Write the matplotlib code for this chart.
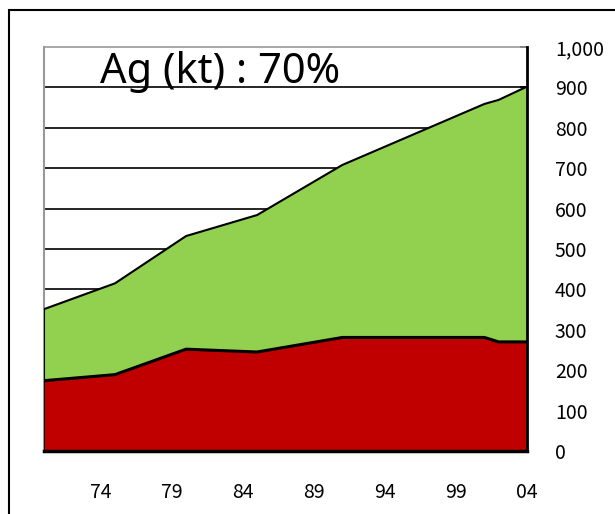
import numpy as np
import matplotlib.pyplot as plt
from matplotlib.patches import Rectangle

# kink points (year, kt)
years = [1970, 1975, 1980, 1985, 1991, 2001, 2002, 2004]
red_vals = [174, 189, 252, 245, 281, 281, 270, 270]      # lower layer
total_vals = [351, 415, 532, 584, 708, 859, 869, 902]    # top of stack
green_vals = [t - r for t, r in zip(total_vals, red_vals)]

yticks = [0, 100, 200, 300, 400, 500, 600, 700, 800, 900, 1000]
ytick_labels = ['0', '100', '200', '300', '400', '500', '600', '700', '800', '900', '1,000']
xtick_years = [1974, 1979, 1984, 1989, 1994, 1999, 2004]
xtick_labels = ['74', '79', '84', '89', '94', '99', '04']

plt.rcParams['font.family'] = ['Noto Sans CJK JP', 'DejaVu Sans']

fig = plt.figure(figsize=(6.15, 5.14), dpi=100)
ax = fig.add_axes([0.0715, 0.1226, 0.857 - 0.0715, 0.9086 - 0.1226])

# outer frame (cut off at right and bottom)
fig.patches.append(Rectangle((9 / 615, -0.2), 2.0, 1 - 10 / 514 + 0.2,
                             transform=fig.transFigure, fill=False,
                             edgecolor='black', linewidth=1.5))

x = np.array(years)
red = np.array(red_vals)
green = np.array(green_vals)

for yv in yticks[1:-1]:
    ax.axhline(yv, color='black', linewidth=1.2, zorder=1)

ax.stackplot(x, red, green, colors=['#C00000', '#92D050'], zorder=2)
ax.plot(x, red, color='black', linewidth=2.2, zorder=3)
ax.plot(x, red + green, color='black', linewidth=1.5, zorder=3)
# dark edge of the area at the left side
ax.plot([x[0], x[0]], [0, total_vals[0]], color='black', linewidth=1.5, zorder=3)

ax.set_xlim(1970, 2004)
ax.set_ylim(0, 1000)

ax.yaxis.tick_right()
ax.set_yticks(yticks)
ax.set_yticklabels(ytick_labels)
ax.tick_params(axis='y', direction='in', length=5, width=1.2, pad=20,
               labelsize=14, right=True, left=False)
for lab in ax.get_yticklabels():
    lab.set_horizontalalignment('left')

ax.set_xticks(np.arange(1970, 2005), minor=True)
ax.set_xticks(xtick_years)
ax.set_xticklabels(xtick_labels)
ax.tick_params(axis='x', which='both', direction='in', length=4, width=1,
               pad=22, labelsize=14)

ax.spines['left'].set_color('#999999')
ax.spines['left'].set_linewidth(1.5)
ax.spines['top'].set_color('#999999')
ax.spines['top'].set_linewidth(1.2)
ax.spines['right'].set_linewidth(2)
ax.spines['bottom'].set_linewidth(2.5)
for s in ['right', 'bottom']:
    ax.spines[s].set_zorder(5)

fig.text(100 / 615, 1 - 83 / 514, 'Ag (kt) : 70%', fontsize=30,
         family=['Noto Sans', 'DejaVu Sans'], ha='left', va='baseline')

fig.savefig('out.png', dpi=100)
